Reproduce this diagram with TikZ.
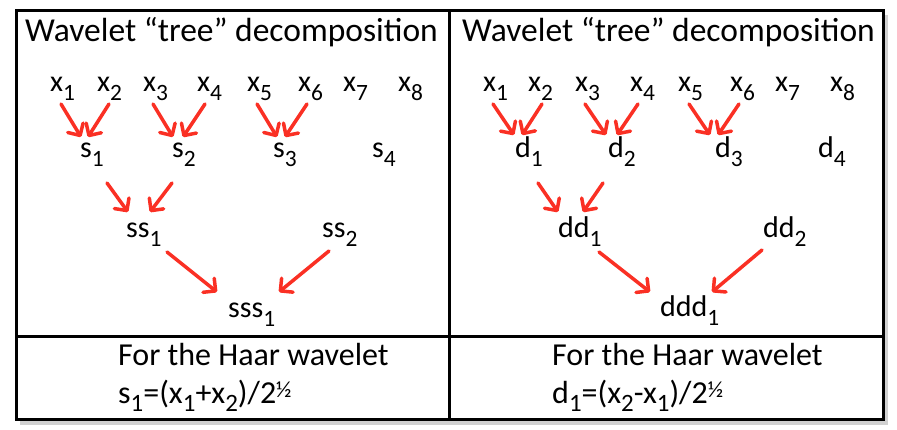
\documentclass[tikz,border=0pt]{standalone}
\usepackage{fontspec}
\usepackage{graphicx}
\setmainfont{Carlito}
\usetikzlibrary{arrows.meta}
\definecolor{arrred}{RGB}{250,48,36}
\newcommand\lo[1]{\raisebox{-0.27em}{\scalebox{0.78}{#1}}}
\newcommand\halfsup{\raisebox{0.17em}{\scalebox{0.72}{½}}}
\begin{document}
\begin{tikzpicture}[x=1pt,y=-1pt,
  lab/.style={anchor=base west, inner sep=0pt, font=\fontsize{30}{36}\selectfont},
  ttl/.style={anchor=base west, inner sep=0pt, font=\fontsize{33.5}{38}\selectfont},
  btm/.style={anchor=base west, inner sep=0pt, font=\fontsize{32}{38}\selectfont},
  arr/.style={draw=arrred, line width=3.5pt, line cap=round,
    -{Straight Barb[length=9pt,width=18pt,round]}},
  frame/.style={line width=3pt, draw=black}]
\useasboundingbox (0,0) rectangle (897,430);
% shadow and table
\draw[line width=4pt, black!18] (886,15) -- (886,423) -- (20,423);
\draw[frame] (16,11) rectangle (883,419);
\draw[frame] (449,11) -- (449,419);
\draw[frame] (16,337) -- (883,337);
% titles
\node[ttl] (t1) at (25,42) {Wavelet “tree” decomposition};
\node[ttl] (t2) at (462,42) {Wavelet “tree” decomposition};
% left panel
\node[lab] (x1) at (50,92) {x\lo{1}};
\node[lab] (x2) at (97,92) {x\lo{2}};
\node[lab] (x3) at (143,92) {x\lo{3}};
\node[lab] (x4) at (197,92) {x\lo{4}};
\node[lab] (x5) at (247,92) {x\lo{5}};
\node[lab] (x6) at (298,92) {x\lo{6}};
\node[lab] (x7) at (343,92) {x\lo{7}};
\node[lab] (x8) at (398,92) {x\lo{8}};
\node[lab] (s1) at (80,158) {s\lo{1}};
\node[lab] (s2) at (172,158) {s\lo{2}};
\node[lab] (s3) at (273,158) {s\lo{3}};
\node[lab] (s4) at (372,158) {s\lo{4}};
\node[lab] (ss1) at (126,238) {ss\lo{1}};
\node[lab] (ss2) at (322,238) {ss\lo{2}};
\node[lab] (sss1) at (228,318) {sss\lo{1}};
\draw[arr] ([shift={(11,12)}]x1.base west) -- ([shift={(1,-21)}]s1.base west);
\draw[arr] ([shift={(12,12)}]x2.base west) -- ([shift={(8,-21)}]s1.base west);
\draw[arr] ([shift={(10,12)}]x3.base west) -- ([shift={(1,-21)}]s2.base west);
\draw[arr] ([shift={(8,12)}]x4.base west) -- ([shift={(11,-21)}]s2.base west);
\draw[arr] ([shift={(10,12)}]x5.base west) -- ([shift={(4,-21)}]s3.base west);
\draw[arr] ([shift={(9,12)}]x6.base west) -- ([shift={(12,-21)}]s3.base west);
\draw[arr] ([shift={(27,25)}]s1.base west) -- ([shift={(2,-26)}]ss1.base west);
\draw[arr] ([shift={(0,25)}]s2.base west) -- ([shift={(24,-26)}]ss1.base west);
\draw[arr] ([shift={(41,14)}]ss1.base west) -- ([shift={(-11,-26)}]sss1.base west);
\draw[arr] ([shift={(7,13)}]ss2.base west) -- ([shift={(51,-26)}]sss1.base west);
% right panel
\node[lab] (y1) at (483,92) {x\lo{1}};
\node[lab] (y2) at (528,92) {x\lo{2}};
\node[lab] (y3) at (575,92) {x\lo{3}};
\node[lab] (y4) at (630,92) {x\lo{4}};
\node[lab] (y5) at (678,92) {x\lo{5}};
\node[lab] (y6) at (730,92) {x\lo{6}};
\node[lab] (y7) at (775,92) {x\lo{7}};
\node[lab] (y8) at (830,92) {x\lo{8}};
\node[lab] (d1) at (515,158) {d\lo{1}};
\node[lab] (d2) at (608,158) {d\lo{2}};
\node[lab] (d3) at (715,158) {d\lo{3}};
\node[lab] (d4) at (818,158) {d\lo{4}};
\node[lab] (dd1) at (558,238) {dd\lo{1}};
\node[lab] (dd2) at (763,238) {dd\lo{2}};
\node[lab] (ddd1) at (660,317) {ddd\lo{1}};
\draw[arr] ([shift={(10,12)}]y1.base west) -- ([shift={(-1,-23)}]d1.base west);
\draw[arr] ([shift={(14,12)}]y2.base west) -- ([shift={(7,-23)}]d1.base west);
\draw[arr] ([shift={(10,12)}]y3.base west) -- ([shift={(-2,-23)}]d2.base west);
\draw[arr] ([shift={(8,12)}]y4.base west) -- ([shift={(9,-23)}]d2.base west);
\draw[arr] ([shift={(11,12)}]y5.base west) -- ([shift={(-5,-23)}]d3.base west);
\draw[arr] ([shift={(9,12)}]y6.base west) -- ([shift={(3,-23)}]d3.base west);
\draw[arr] ([shift={(23,25)}]d1.base west) -- ([shift={(0,-26)}]dd1.base west);
\draw[arr] ([shift={(-5,25)}]d2.base west) -- ([shift={(25,-26)}]dd1.base west);
\draw[arr] ([shift={(41,14)}]dd1.base west) -- ([shift={(-10,-25)}]ddd1.base west);
\draw[arr] ([shift={(-1,12)}]dd2.base west) -- ([shift={(52,-25)}]ddd1.base west);
% bottom texts
\node[btm] (f1) at (118,365) {For the Haar wavelet};
\node[btm] (g1) at (118,403) {s\lo{1}=(x\lo{1}+x\lo{2})/2\halfsup};
\node[btm] (f2) at (552,365) {For the Haar wavelet};
\node[btm] (g2) at (552,403) {d\lo{1}=(x\lo{2}-x\lo{1})/2\halfsup};
\end{tikzpicture}
\end{document}
